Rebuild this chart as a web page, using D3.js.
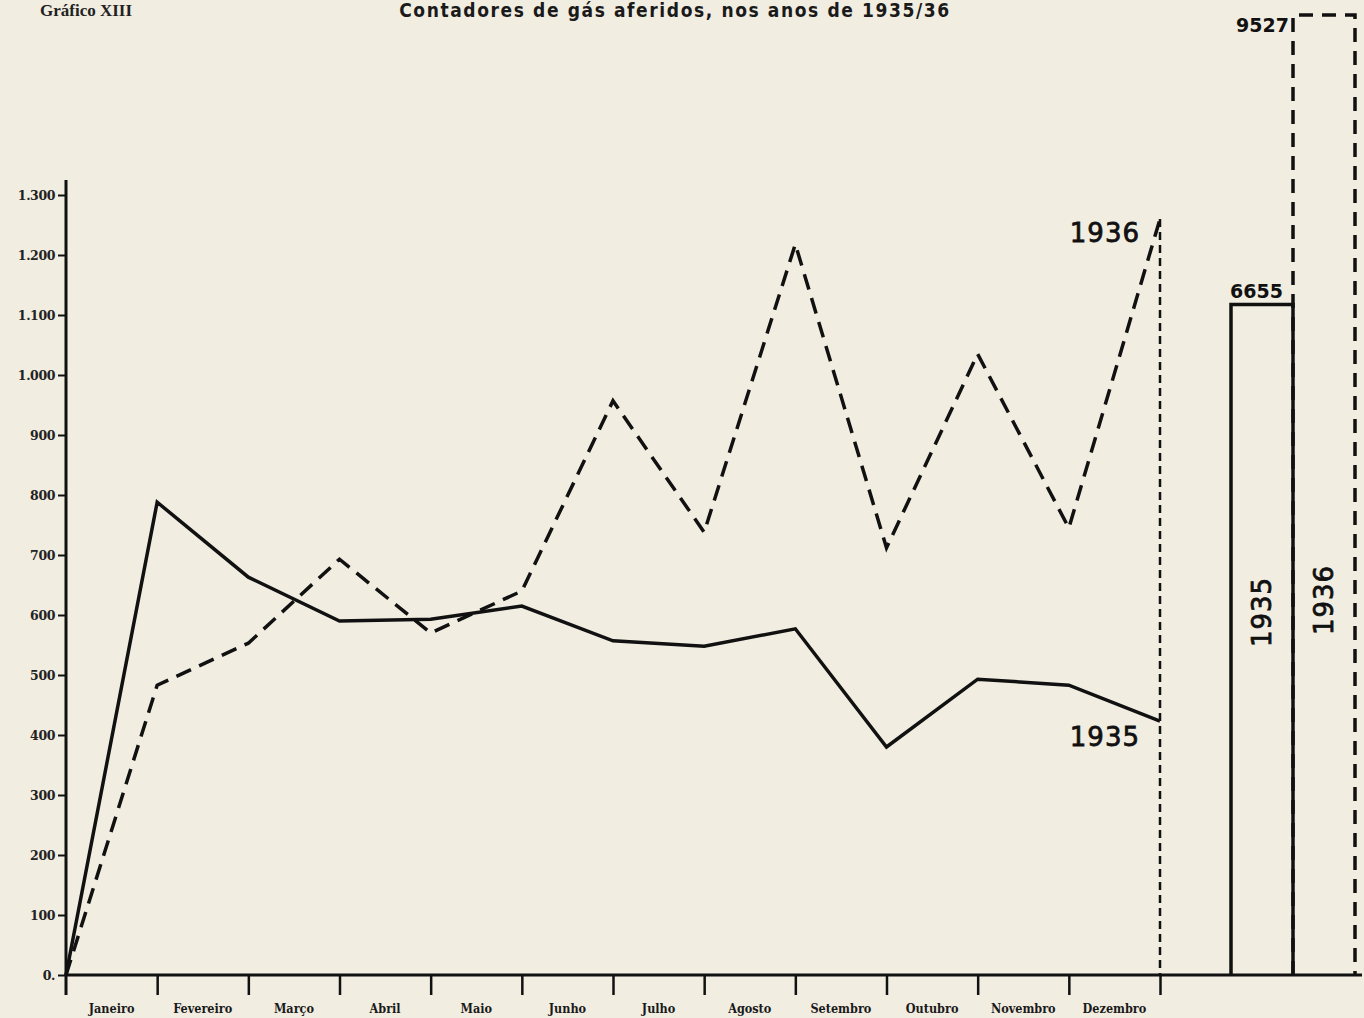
<!DOCTYPE html>
<html>
<head>
<meta charset="utf-8">
<script src="https://cdn.jsdelivr.net/npm/d3@7"></script>
<style>
  body { margin: 0; background: #f1ece0; }
  svg { display: block; }
</style>
</head>
<body>
<div id="chart"></div>
<script>
document.addEventListener("DOMContentLoaded", function () {
    // data
    let months = ["Janeiro", "Fevereiro", "Março", "Abril", "Maio", "Junho",
        "Julho", "Agosto", "Setembro", "Outubro", "Novembro", "Dezembro"];
    let values1935 = [788, 663, 590, 593, 615, 557, 548, 577, 380, 493, 483, 423];
    let values1936 = [483, 553, 693, 570, 640, 957, 738, 1218, 712, 1035, 745, 1260];
    let yTicks = [0, 100, 200, 300, 400, 500, 600, 700, 800, 900, 1000, 1100, 1200, 1300];
    let totalYears = ["1935", "1936"];
    let totals = [6655, 9527];

    let width = 1364, height = 1018;

    let svg = d3.select("#chart")
        .append("svg")
        .attr("width", width)
        .attr("height", height);

    svg.append("rect")
        .attr("width", width)
        .attr("height", height)
        .attr("fill", "#f1ede1");

    let x = d3.scaleLinear().domain([0, 12]).range([66, 1160]);
    let y = d3.scaleLinear().domain([0, 1300]).range([975, 195]);

    let fmt = d3.formatLocale({ decimal: ",", thousands: ".", grouping: [3], currency: ["", ""] }).format(",");

    // titles
    svg.append("text")
        .attr("x", 40)
        .attr("y", 16)
        .style("font-family", "'Liberation Serif', serif")
        .style("font-weight", "bold")
        .style("font-size", "17px")
        .attr("fill", "#222")
        .text("Gráfico XIII");

    svg.append("text")
        .attr("x", 675)
        .attr("y", 17)
        .attr("text-anchor", "middle")
        .style("font-family", "'DejaVu Sans Condensed', 'DejaVu Sans', sans-serif")
        .style("font-weight", "bold")
        .style("font-size", "19px")
        .style("letter-spacing", "1.6px")
        .attr("fill", "#1a1a1a")
        .text("Contadores de gás aferidos, nos anos de 1935/36");

    // y axis
    let yAxis = d3.axisLeft(y)
        .tickValues(yTicks)
        .tickSize(8)
        .tickPadding(3)
        .tickFormat(d => d === 0 ? "0." : fmt(d));

    let gy = svg.append("g")
        .attr("transform", "translate(66,0)")
        .call(yAxis);
    gy.select(".domain").remove();
    gy.selectAll(".tick line").attr("stroke", "#111").attr("stroke-width", 2);
    gy.selectAll(".tick text")
        .attr("fill", "#222")
        .style("font-family", "'DejaVu Serif', serif")
        .style("font-weight", "bold")
        .style("font-size", "12.5px")
        .style("letter-spacing", "-0.4px");

    svg.append("line")
        .attr("x1", 66).attr("x2", 66)
        .attr("y1", 180).attr("y2", 995)
        .attr("stroke", "#111")
        .attr("stroke-width", 3);

    // x axis
    let xAxis = d3.axisBottom(x)
        .tickValues(d3.range(1, 13))
        .tickSize(20)
        .tickFormat("");

    let gx = svg.append("g")
        .attr("transform", `translate(0,${y(0)})`)
        .call(xAxis);
    gx.select(".domain").remove();
    gx.selectAll(".tick line").attr("stroke", "#111").attr("stroke-width", 2.5);

    svg.append("line")
        .attr("x1", 66).attr("x2", 1362)
        .attr("y1", y(0)).attr("y2", y(0))
        .attr("stroke", "#111")
        .attr("stroke-width", 3);

    svg.selectAll(".month")
        .data(months)
        .enter()
        .append("text")
        .attr("class", "month")
        .attr("x", (d, i) => x(i + 0.5))
        .attr("y", 1013)
        .attr("text-anchor", "middle")
        .style("font-family", "'DejaVu Serif Condensed', 'DejaVu Serif', serif")
        .style("font-weight", "bold")
        .style("font-size", "12.5px")
        .attr("fill", "#1a1a1a")
        .text(d => d);

    // lines, starting from zero at the origin
    let toPoints = vals => [{ i: 0, v: 0 }].concat(vals.map((v, i) => ({ i: i + 1, v: v })));
    let line = d3.line().x(d => x(d.i)).y(d => y(d.v));

    svg.append("path")
        .datum(toPoints(values1935))
        .attr("d", line)
        .attr("fill", "none")
        .attr("stroke", "#111")
        .attr("stroke-width", 3.5)
        .attr("stroke-linejoin", "miter");

    svg.append("path")
        .datum(toPoints(values1936))
        .attr("d", line)
        .attr("fill", "none")
        .attr("stroke", "#111")
        .attr("stroke-width", 3.5)
        .attr("stroke-dasharray", "16,9");

    // dashed drop line at December
    svg.append("line")
        .attr("x1", x(12)).attr("x2", x(12))
        .attr("y1", y(values1936[11])).attr("y2", y(0))
        .attr("stroke", "#111")
        .attr("stroke-width", 2.5)
        .attr("stroke-dasharray", "8,5");

    let handFont = "'DejaVu Sans', sans-serif";

    svg.append("text")
        .attr("x", 1140)
        .attr("y", 242)
        .attr("text-anchor", "end")
        .style("font-family", handFont)
        .style("font-size", "26px")
        .style("letter-spacing", "1px")
        .attr("fill", "#111")
        .attr("stroke", "#111")
        .attr("stroke-width", 0.8)
        .text("1936");

    svg.append("text")
        .attr("x", 1140)
        .attr("y", 746)
        .attr("text-anchor", "end")
        .style("font-family", handFont)
        .style("font-size", "26px")
        .style("letter-spacing", "1px")
        .attr("fill", "#111")
        .attr("stroke", "#111")
        .attr("stroke-width", 0.8)
        .text("1935");

    // yearly totals
    let xb = d3.scaleBand().domain(totalYears).range([1231, 1355]).padding(0);
    let yb = d3.scaleLinear().domain([0, totals[1]]).range([y(0), 15]);

    totalYears.forEach(function (yr, k) {
        let bx = xb(yr), bw = xb.bandwidth(), top = yb(totals[k]);
        let path = `M${bx},${y(0)}V${top}H${bx + bw}V${y(0)}`;
        svg.append("path")
            .attr("d", path)
            .attr("fill", "none")
            .attr("stroke", "#111")
            .attr("stroke-width", 3.5)
            .attr("stroke-dasharray", k === 1 ? "14,9" : null);

        svg.append("text")
            .attr("x", k === 1 ? bx - 4 : bx - 1)
            .attr("y", k === 1 ? top + 17 : top - 6)
            .attr("text-anchor", k === 1 ? "end" : "start")
            .style("font-family", handFont)
            .style("font-weight", "bold")
            .style("font-size", "19px")
            .attr("fill", "#111")
            .text(totals[k]);

        svg.append("text")
            .attr("transform", `translate(${bx + bw / 2 + 9},${k === 1 ? 600 : 612}) rotate(-90)`)
            .attr("text-anchor", "middle")
            .style("font-family", handFont)
            .style("font-size", "26px")
            .style("letter-spacing", "1px")
            .attr("fill", "#111")
            .attr("stroke", "#111")
            .attr("stroke-width", 0.8)
            .text(yr);
    });
});
</script>
</body>
</html>
